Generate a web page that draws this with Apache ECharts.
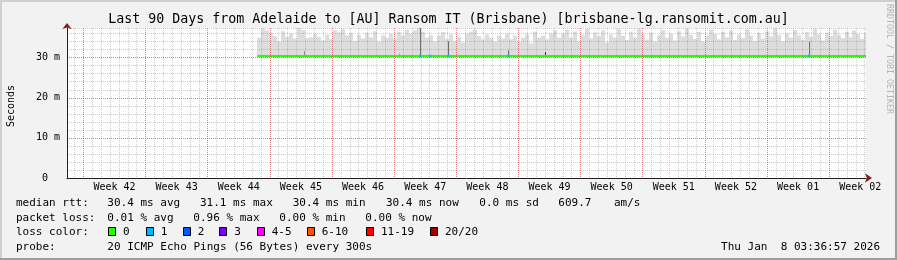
<!DOCTYPE html>
<html><head><meta charset="utf-8">
<script src="https://cdn.jsdelivr.net/npm/echarts@6/dist/echarts.min.js"></script>
<style>html,body{margin:0;padding:0;background:#f2f2f2}#c{width:897px;height:260px}</style>
</head><body><div id="c"></div>
<script>
// ---- data (x in days since 2025-10-10 00:00 local) ----
const titleText = 'Last 90 Days from Adelaide to [AU] Ransom IT (Brisbane) [brisbane-lg.ransomit.com.au]';
const xMin = 0.1507, xMax = 90.1507;
const yMin = 0, yMax = 37.4;
const weekLabels = ['Week 42','Week 43','Week 44','Week 45','Week 46','Week 47','Week 48','Week 49','Week 50','Week 51','Week 52','Week 01','Week 02'];
const weekStartDays = [2, 9, 16, 23, 30, 37, 44, 51, 58, 65, 72, 79, 86];
const yTickValues = [0, 10, 20, 30];
const medianDays = [21.58, 90.15];
const medianValues = [30.4, 30.4];
const smokeStartDay = 21.58, smokeStepDays = 0.45, smokeBase = 30.3;
const smokeTop = [
 35.0,37.3,36.8,36.2,35.4,34.0,36.6,35.2,36.0,34.8,
 37.4,36.9,34.9,35.1,36.0,35.2,34.3,35.7,34.6,36.8,
 36.3,37.1,35.6,36.1,34.2,35.7,34.8,36.2,35.1,36.6,
 34.0,35.6,35.0,35.9,34.7,36.4,35.6,37.0,36.0,36.8,
 37.4,36.5,35.0,35.6,34.1,35.5,36.4,34.7,35.8,34.0,
 35.1,33.8,36.0,36.5,37.0,35.4,34.6,35.8,35.0,34.0,
 35.5,34.8,36.0,34.6,35.5,34.0,35.0,35.8,33.6,36.5,
 35.0,35.5,34.6,36.0,36.8,35.0,36.0,37.0,35.0,36.5,
 34.2,35.6,37.2,34.8,36.3,35.4,36.8,33.8,35.8,35.0,
 37.1,35.5,34.4,36.5,35.0,37.3,35.8,34.5,36.2,34.0,
 35.6,36.9,35.0,36.0,34.3,36.6,35.3,37.3,35.7,34.7,
 36.4,34.0,35.4,37.0,35.9,34.6,36.5,35.1,36.8,34.4,
 35.8,34.9,37.1,35.5,34.2,36.1,34.8,36.6,35.3,37.3,
 35.7,34.1,36.0,35.0,36.9,35.6,34.5,36.4,35.2,37.2,
 35.8,34.3,36.2,35.4,37.0,35.7,34.9,36.5,35.1,36.8,
 35.9,34.7,36.2
];
const spikeDays  = [26.87, 37.60, 39.93, 43.12, 49.88, 54.01, 83.73];
const spikeLow   = [30.4, 30.4, 30.4, 30.4, 30.4, 30.2, 30.4];
const spikeHigh  = [31.6, 31.0, 37.4, 34.1, 31.8, 31.4, 34.1];
const spikeColor = ['#8a8a8a','#9a9a9a','#707070','#6a6a6a','#6a6a6a','#111111','#707070'];
const lossDays   = [39.93, 41.06, 43.12, 49.88, 83.73];
const lossValues = [30.4, 30.4, 30.4, 30.4, 30.4];

const dayLines = [];
for (let d = 1; d <= 90; d++) dayLines.push(d);
const weekMidDays = weekStartDays.map(d => d + 3.5);

const mono = '"DejaVu Sans Mono", monospace';
const chart = echarts.init(document.getElementById('c'), null, {renderer: 'canvas'});

const smokeData = smokeTop.map((t, i) => [smokeStartDay + i * smokeStepDays, smokeStartDay + (i + 1) * smokeStepDays, smokeBase, t]);
const spikeData = spikeDays.map((d, i) => [d, spikeLow[i], spikeHigh[i], i]);

const txt = (x, y, s) => ({type: 'text', x: x, y: y, silent: true,
  style: {text: s, font: '11px ' + mono, fill: '#000', textAlign: 'left', textVerticalAlign: 'middle'}});
const lossColors = ['#26ff00','#00b8ff','#0059ff','#7e00ff','#ff00ff','#ff5500','#ff0000','#a10000'];
const lossNames = ['0','1','2','3','4-5','6-10','11-19','20/20'];
const lossBoxX = [108, 145.7, 182.7, 219.3, 256.7, 306.7, 366, 430];
const row = [203.5, 218, 231.7, 246.7];
const graphics = [
  {type:'rect', shape:{x:0,y:0,width:897,height:2}, style:{fill:'#cfcfcf'}, silent:true},
  {type:'rect', shape:{x:0,y:0,width:2,height:260}, style:{fill:'#cfcfcf'}, silent:true},
  {type:'rect', shape:{x:0,y:258,width:897,height:2}, style:{fill:'#9e9e9e'}, silent:true},
  {type:'rect', shape:{x:895,y:0,width:2,height:260}, style:{fill:'#9e9e9e'}, silent:true},
  {type:'text', x:448.5, y:20, silent:true, style:{text:titleText, font:'13.3px '+mono, fill:'#000', textAlign:'center', textVerticalAlign:'middle'}},
  {type:'text', x:11, y:106, rotation:Math.PI/2, silent:true, style:{text:'Seconds', font:'10px '+mono, fill:'#000', textAlign:'center', textVerticalAlign:'middle'}},
  {type:'text', x:889, y:4, rotation:-Math.PI/2, silent:true, style:{text:'RRDTOOL / TOBI OETIKER', font:'8.3px '+mono, fill:'#b4b4b4', textAlign:'left', textVerticalAlign:'middle'}},
  txt(16, row[0], 'median rtt:'), txt(107.3, row[0], '30.4 ms avg'), txt(200, row[0], '31.1 ms max'),
  txt(292.7, row[0], '30.4 ms min'), txt(386, row[0], '30.4 ms now'), txt(479.3, row[0], '0.0 ms sd'),
  txt(558.3, row[0], '609.7'), txt(614, row[0], 'am/s'),
  txt(16, row[1], 'packet loss:'), txt(107.3, row[1], '0.01 % avg'), txt(193.3, row[1], '0.96 % max'),
  txt(279.3, row[1], '0.00 % min'), txt(365.3, row[1], '0.00 % now'),
  txt(16, row[2], 'loss color:'),
  txt(16, row[3], 'probe:'), txt(107.3, row[3], '20 ICMP Echo Pings (56 Bytes) every 300s'),
  {type:'text', x:880, y:row[3], silent:true, style:{text:'Thu Jan  8 03:36:57 2026', font:'11px '+mono, fill:'#000', textAlign:'right', textVerticalAlign:'middle'}}
];
lossColors.forEach((c, i) => {
  graphics.push({type:'rect', silent:true, shape:{x:Math.round(lossBoxX[i]) + 0.5, y:227.5, width:7, height:8}, style:{fill:c, stroke:'#000', lineWidth:1}});
  graphics.push(txt(lossBoxX[i] + 15, row[2], lossNames[i]));
});

const gridLineMinor = {color: 'rgba(143,143,143,0.45)', width: 1, type: [1, 1]};
const gridLineMajor = {color: 'rgba(222,79,79,0.6)', width: 1, type: [1, 1]};
const axisCol = '#1f1f1f';
const arrowCol = '#801f1f';

const option = {
  backgroundColor: '#f2f2f2',
  animation: false,
  grid: {left: 67, right: 31, top: 28, bottom: 82, show: true, backgroundColor: '#ffffff', borderWidth: 0},
  xAxis: [
    {type:'value', min:xMin, max:xMax, position:'bottom', z:10,
     axisLine:{show:true, onZero:false, lineStyle:{color:arrowCol, width:0}, symbol:['none','arrow'], symbolSize:[7,7], symbolOffset:[0,6]},
     axisLabel:{show:false},
     axisTick:{show:false, customValues: dayLines},
     splitLine:{show:true, lineStyle: gridLineMinor}},
    {type:'value', min:xMin, max:xMax, position:'bottom', z:11,
     axisLine:{show:true, onZero:false, lineStyle:{color:axisCol, width:1}},
     axisTick:{show:false, customValues: weekStartDays},
     axisLabel:{show:true, customValues: weekMidDays, margin:4, fontFamily: mono, fontSize:10, color:'#000',
       formatter: v => { const i = weekMidDays.findIndex(m => Math.abs(m - v) < 1e-6); return i >= 0 ? weekLabels[i] : ''; }},
     splitLine:{show:true, lineStyle: gridLineMajor}}
  ],
  yAxis: [
    {type:'value', min:yMin, max:yMax, interval:2, position:'left', z:10,
     axisLine:{show:true, onZero:false, lineStyle:{color:arrowCol, width:0}, symbol:['none','arrow'], symbolSize:[7,6], symbolOffset:[0,5]},
     axisLabel:{show:false}, axisTick:{show:false},
     splitLine:{show:true, lineStyle: gridLineMinor}},
    {type:'value', min:yMin, max:yMax, position:'left', z:11,
     axisLine:{show:true, onZero:false, lineStyle:{color:axisCol, width:1}},
     axisTick:{show:false, customValues: yTickValues},
     axisLabel:{show:true, customValues: yTickValues, margin:7, fontFamily: mono, fontSize:10, color:'#000',
       formatter: v => v === 0 ? '0  ' : v + ' m'},
     splitLine:{show:true, lineStyle: gridLineMajor}}
  ],
  graphic: graphics,
  series: [
    {type:'custom', name:'smoke', xAxisIndex:1, yAxisIndex:1, clip:true, z:2,
     encode:{x:[0,1], y:[2,3]}, data: smokeData,
     renderItem: (params, api) => {
       const a = api.coord([api.value(0), api.value(3)]);
       const b = api.coord([Math.min(api.value(1), xMax), api.value(2)]);
       const x0 = Math.round(a[0]), x1 = Math.round(b[0]);
       return {type:'rect', shape:{x:x0, y:a[1], width:x1 - x0, height:b[1] - a[1]}, style:{fill:'#dddddd'}};
     }},
    {type:'custom', name:'spikes', xAxisIndex:1, yAxisIndex:1, clip:true, z:3,
     encode:{x:0, y:[1,2]}, data: spikeData,
     renderItem: (params, api) => {
       const a = api.coord([api.value(0), api.value(2)]);
       const b = api.coord([api.value(0), api.value(1)]);
       return {type:'rect', shape:{x:Math.round(a[0]), y:a[1], width:1, height:b[1] - a[1]}, style:{fill: spikeColor[api.value(3)]}};
     }},
    {type:'line', name:'median', xAxisIndex:1, yAxisIndex:1, z:4, symbol:'none',
     data: medianDays.map((d, i) => [d, medianValues[i]]),
     lineStyle:{color:'#26ff00', width:2}},
    {type:'scatter', name:'loss', xAxisIndex:1, yAxisIndex:1, z:5, symbol:'rect', symbolSize:[2,3],
     data: lossDays.map((d, i) => [d, lossValues[i]]), itemStyle:{color:'#00b8ff'}}
  ]
};
chart.setOption(option);
</script></body></html>
